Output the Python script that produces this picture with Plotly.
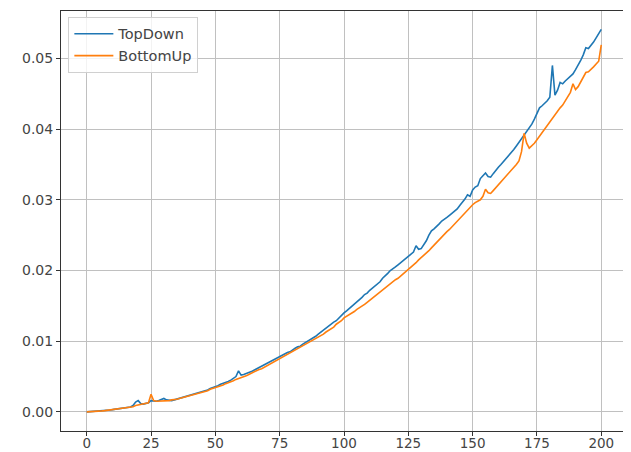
import plotly.graph_objects as go

steps = list(range(201))

top_down = [
    0.0, 0.00002, 0.00004, 0.00007, 0.0001, 0.00013, 0.00016, 0.0002, 0.00024, 0.00028,
    0.00032, 0.00036, 0.0004, 0.00045, 0.0005, 0.00056, 0.00062, 0.0007, 0.0009, 0.0014,
    0.0016, 0.0012, 0.0011, 0.0012, 0.0013, 0.0016, 0.0015, 0.0015, 0.0016, 0.0017,
    0.0019, 0.0017, 0.0016, 0.0016, 0.0017, 0.0018, 0.0019, 0.0020, 0.0021, 0.0022,
    0.0023, 0.0024, 0.0025, 0.0026, 0.0027, 0.0029, 0.0030, 0.0031, 0.0033, 0.0034,
    0.0036, 0.0037, 0.0039, 0.0040, 0.0042, 0.0043, 0.0045, 0.0047, 0.0050, 0.0058,
    0.0052, 0.0053, 0.0054, 0.0056, 0.0057, 0.0059, 0.0061, 0.0062, 0.0064, 0.0066,
    0.0068, 0.0070, 0.0072, 0.0074, 0.0076, 0.0078, 0.0080, 0.0082, 0.0084, 0.0085,
    0.0088, 0.0090, 0.0092, 0.0093, 0.0096, 0.0098, 0.0100, 0.0102, 0.0105, 0.0107,
    0.0110, 0.0113, 0.0116, 0.0118, 0.0121, 0.0124, 0.0127, 0.0129, 0.0133, 0.0136,
    0.0140, 0.0143, 0.0146, 0.0149, 0.0152, 0.0156, 0.0159, 0.0162, 0.0166, 0.0168,
    0.0172, 0.0175, 0.0178, 0.0182, 0.0184, 0.0189, 0.0192, 0.0196, 0.0200, 0.0202,
    0.0205, 0.0208, 0.0211, 0.0214, 0.0216, 0.0219, 0.0222, 0.0226, 0.0235, 0.0230,
    0.0231, 0.0236, 0.0242, 0.0250, 0.0256, 0.0259, 0.0262, 0.0266, 0.0270, 0.0272,
    0.0275, 0.0278, 0.0281, 0.0285, 0.0287, 0.0292, 0.0296, 0.0301, 0.0307, 0.0305,
    0.0314, 0.0318, 0.0320, 0.0330, 0.0334, 0.0338, 0.0333, 0.0332, 0.0337, 0.0342,
    0.0346, 0.0350, 0.0354, 0.0358, 0.0362, 0.0366, 0.0371, 0.0376, 0.0381, 0.0386,
    0.0391, 0.0396, 0.0401, 0.0407, 0.0414, 0.0422, 0.0430, 0.0433, 0.0436, 0.0440,
    0.0445, 0.0490, 0.0448, 0.0455, 0.0466, 0.0464, 0.0468, 0.0471, 0.0474, 0.0478,
    0.0484, 0.0490, 0.0497, 0.0505, 0.0515, 0.0514, 0.0518, 0.0523, 0.0529, 0.0535,
    0.0541,
]

bottom_up = [
    0.0, 0.00001, 0.00003, 0.00005, 0.00008, 0.00011, 0.00014, 0.00018, 0.00022, 0.00026,
    0.0003, 0.00035, 0.0004, 0.00045, 0.0005, 0.00055, 0.0006, 0.00066, 0.00072, 0.0009,
    0.0010, 0.0011, 0.0011, 0.0012, 0.0013, 0.0025, 0.0016, 0.0015, 0.0015, 0.0016,
    0.0016, 0.0016, 0.0016, 0.0017, 0.0017, 0.0018, 0.0019, 0.0020, 0.0021, 0.0022,
    0.0023, 0.0024, 0.0025, 0.0026, 0.0027, 0.0028, 0.0029, 0.0030, 0.0032, 0.0033,
    0.0034, 0.0036, 0.0037, 0.0038, 0.0040, 0.0041, 0.0043, 0.0044, 0.0046, 0.0047,
    0.0048, 0.0050, 0.0051, 0.0053, 0.0055, 0.0056, 0.0058, 0.0060, 0.0061, 0.0063,
    0.0065, 0.0067, 0.0069, 0.0071, 0.0073, 0.0075, 0.0077, 0.0079, 0.0081, 0.0083,
    0.0085, 0.0087, 0.0089, 0.0091, 0.0093, 0.0095, 0.0097, 0.0099, 0.0101, 0.0104,
    0.0106, 0.0108, 0.0110, 0.0113, 0.0115, 0.0118, 0.0120, 0.0124, 0.0126, 0.0129,
    0.0133, 0.0135, 0.0137, 0.0140, 0.0142, 0.0145, 0.0147, 0.0150, 0.0152, 0.0155,
    0.0158, 0.0160, 0.0163, 0.0166, 0.0169, 0.0172, 0.0175, 0.0178, 0.0181, 0.0184,
    0.0187, 0.0189, 0.0192, 0.0195, 0.0198, 0.0202, 0.0205, 0.0208, 0.0211, 0.0215,
    0.0218, 0.0222, 0.0225, 0.0228, 0.0232, 0.0236, 0.0239, 0.0243, 0.0247, 0.0251,
    0.0255, 0.0258, 0.0262, 0.0266, 0.0270, 0.0273, 0.0277, 0.0281, 0.0285, 0.0289,
    0.0293, 0.0296, 0.0298, 0.0300, 0.0305, 0.0315, 0.0310, 0.0309, 0.0313, 0.0317,
    0.0321, 0.0325, 0.0329, 0.0333, 0.0337, 0.0342, 0.0346, 0.0350, 0.0355, 0.0368,
    0.0394, 0.0380, 0.0373, 0.0376, 0.0380, 0.0385, 0.0390, 0.0395, 0.0400, 0.0405,
    0.0410, 0.0416, 0.0421, 0.0425, 0.0430, 0.0434, 0.0440, 0.0445, 0.0452, 0.0464,
    0.0456, 0.0460, 0.0466, 0.0472, 0.0480, 0.0481, 0.0484, 0.0488, 0.0492, 0.0496,
    0.0519,
]

series_names = ["TopDown", "BottomUp"]
x_ticks = [0, 25, 50, 75, 100, 125, 150, 175, 200]
y_ticks = [0.0, 0.01, 0.02, 0.03, 0.04, 0.05]

fig = go.Figure()
fig.add_trace(go.Scatter(x=steps, y=top_down, mode="lines", name=series_names[0],
                         line=dict(color="#1f77b4", width=1.6)))
fig.add_trace(go.Scatter(x=steps, y=bottom_up, mode="lines", name=series_names[1],
                         line=dict(color="#ff7f0e", width=1.6)))

axis_common = dict(
    showline=True, mirror=True, linecolor="#333333", linewidth=1,
    ticks="outside", ticklen=4, tickcolor="#333333", tickwidth=1,
    showgrid=True, gridcolor="#c0c0c0", gridwidth=1, zeroline=False,
    tickfont=dict(family="DejaVu Sans", size=14, color="#444444"),
)

fig.update_xaxes(range=[-10, 210], tickvals=x_ticks, automargin=False,
                 ticklabelstandoff=-4, **axis_common)
fig.update_xaxes(tickfont=dict(family="DejaVu Sans", size=13.5, color="#444444"))
fig.update_yaxes(range=[-0.0027, 0.0567], tickvals=y_ticks, tickformat=".2f",
                 automargin=False, **axis_common)

# The page body adds an 8px offset; size and margins compensate for it.
fig.update_layout(
    width=623, height=444,
    margin=dict(l=53, r=4, t=3, b=21),
    paper_bgcolor="white", plot_bgcolor="white",
    font=dict(family="DejaVu Sans", size=14, color="#444444"),
    legend=dict(x=0.013, y=0.986, xanchor="left", yanchor="top",
                bgcolor="rgba(255,255,255,0.8)", bordercolor="#d0d0d0", borderwidth=1,
                font=dict(family="DejaVu Sans", size=14.5, color="#444444"),
                itemwidth=39),
    showlegend=True,
)

fig.write_html("out.html")
